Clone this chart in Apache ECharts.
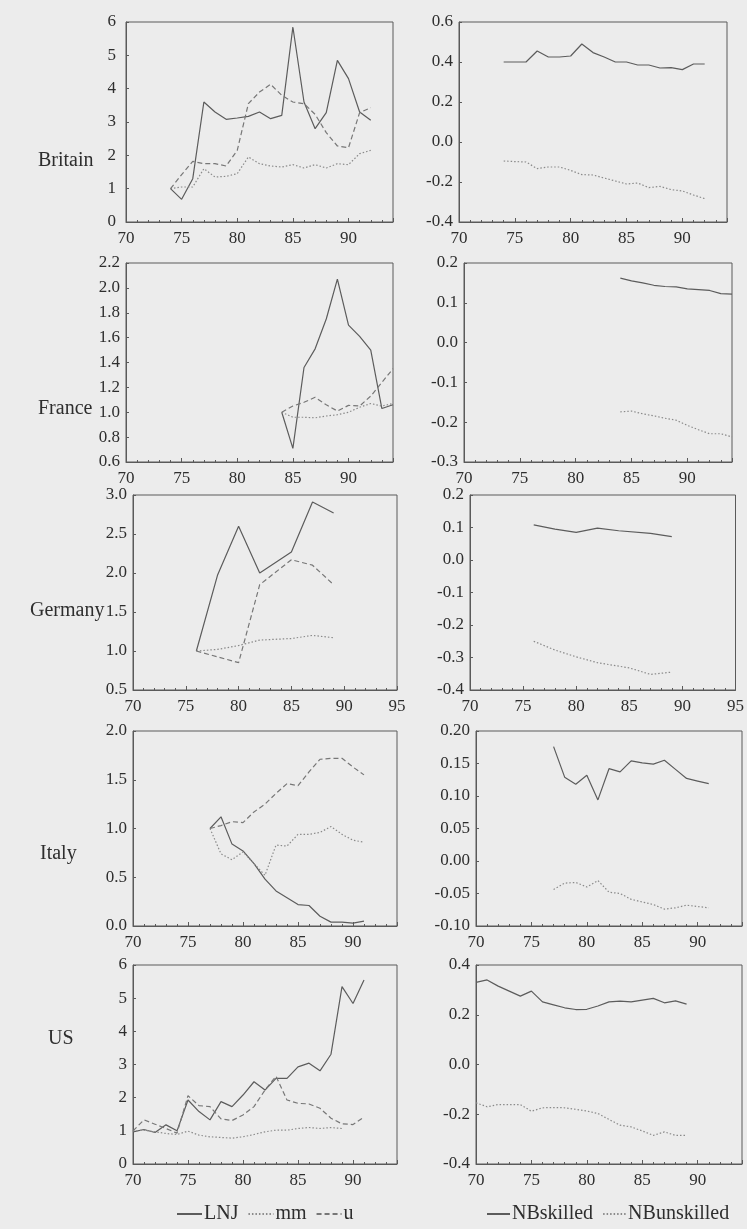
<!DOCTYPE html>
<html>
<head>
<meta charset="utf-8">
<script src="https://cdn.jsdelivr.net/npm/echarts@6/dist/echarts.min.js"></script>
<style>
html, body { margin: 0; padding: 0; background: #ececec; }
#main { width: 747px; height: 1229px; }
</style>
</head>
<body>
<div id="main"></div>
<script>
// Britain, 1974-92
var britYears = [74, 75, 76, 77, 78, 79, 80, 81, 82, 83, 84, 85, 86, 87, 88, 89, 90, 91, 92];
var britLNJ = [1.0, 0.68, 1.3, 3.6, 3.3, 3.08, 3.12, 3.17, 3.3, 3.1, 3.2, 5.85, 3.6, 2.8, 3.28, 4.85, 4.3, 3.3, 3.05];
var britMM = [1.0, 1.05, 1.05, 1.6, 1.35, 1.37, 1.45, 1.95, 1.75, 1.68, 1.65, 1.72, 1.62, 1.72, 1.62, 1.75, 1.72, 2.05, 2.15];
var britU = [1.0, 1.42, 1.82, 1.75, 1.75, 1.68, 2.15, 3.55, 3.9, 4.13, 3.8, 3.6, 3.55, 3.23, 2.68, 2.28, 2.23, 3.28, 3.43];
var britSkilled = [0.40, 0.40, 0.40, 0.455, 0.425, 0.425, 0.43, 0.49, 0.447, 0.425, 0.40, 0.40, 0.385, 0.385, 0.37, 0.372, 0.362, 0.39, 0.39];
var britUnskilled = [-0.095, -0.098, -0.1, -0.133, -0.125, -0.125, -0.142, -0.163, -0.165, -0.18, -0.195, -0.21, -0.205, -0.228, -0.222, -0.238, -0.245, -0.265, -0.283];

// France, 1984-94
var franceYears = [84, 85, 86, 87, 88, 89, 90, 91, 92, 93, 94];
var franceLNJ = [1.0, 0.71, 1.36, 1.51, 1.75, 2.07, 1.7, 1.61, 1.5, 1.03, 1.06];
var franceMM = [1.0, 0.96, 0.96, 0.955, 0.97, 0.98, 1.0, 1.04, 1.07, 1.05, 1.07];
var franceU = [1.0, 1.05, 1.08, 1.12, 1.06, 1.01, 1.055, 1.05, 1.13, 1.24, 1.35];
var franceSkilled = [0.162, 0.155, 0.15, 0.144, 0.141, 0.14, 0.135, 0.133, 0.131, 0.123, 0.122];
var franceUnskilled = [-0.174, -0.172, -0.179, -0.184, -0.19, -0.195, -0.208, -0.219, -0.229, -0.229, -0.237];

// Germany, 1976-89 (null = no point drawn)
var gerYears = [76, 77, 78, 79, 80, 81, 82, 83, 84, 85, 86, 87, 88, 89];
var gerLNJ = [1.0, null, 1.97, null, 2.6, null, 2.0, null, null, 2.27, null, 2.91, null, 2.77];
var gerMM = [1.0, null, 1.02, null, 1.07, null, 1.14, null, null, 1.16, null, 1.2, null, 1.17];
var gerU = [1.0, null, null, null, 0.85, null, 1.85, null, null, 2.17, null, 2.1, null, 1.85];
var gerSkilled = [0.108, null, 0.095, null, 0.085, null, 0.098, null, 0.09, null, null, 0.082, null, 0.072];
var gerUnskilled = [-0.25, null, -0.277, null, -0.298, null, -0.316, null, null, -0.332, null, -0.352, null, -0.345];

// Italy, 1977-91
var italyYears = [77, 78, 79, 80, 81, 82, 83, 84, 85, 86, 87, 88, 89, 90, 91];
var italyLNJ = [1.0, 1.12, 0.84, 0.77, 0.64, 0.48, 0.36, 0.29, 0.22, 0.21, 0.1, 0.04, 0.04, 0.03, 0.05];
var italyMM = [1.0, 0.74, 0.68, 0.76, null, 0.52, 0.83, 0.82, 0.94, 0.94, 0.96, 1.02, 0.94, 0.88, 0.86];
var italyU = [1.0, 1.03, 1.07, 1.06, 1.17, 1.25, 1.36, 1.46, 1.44, 1.58, 1.71, 1.72, 1.72, 1.63, 1.55];
var italySkilled = [0.176, 0.129, 0.118, 0.132, 0.094, 0.142, 0.137, 0.154, 0.151, 0.149, 0.155, 0.141, 0.127, 0.123, 0.119];
var italyUnskilled = [-0.044, -0.034, -0.033, -0.04, -0.03, -0.048, -0.05, -0.059, -0.063, -0.067, -0.074, -0.072, -0.068, -0.07, -0.072];

// US, 1970-91
var usYears = [70, 71, 72, 73, 74, 75, 76, 77, 78, 79, 80, 81, 82, 83, 84, 85, 86, 87, 88, 89, 90, 91];
var usLNJ = [0.97, 1.04, 0.95, 1.18, 1.0, 1.93, 1.58, 1.33, 1.88, 1.73, 2.08, 2.48, 2.23, 2.58, 2.58, 2.93, 3.04, 2.81, 3.31, 5.35, 4.84, 5.55];
var usMM = [1.0, 1.02, 0.97, 0.92, 0.89, 0.99, 0.87, 0.82, 0.8, 0.78, 0.82, 0.89, 0.97, 1.02, 1.02, 1.07, 1.1, 1.07, 1.1, 1.07, null, null];
var usU = [1.0, 1.33, 1.2, 1.07, 0.93, 2.06, 1.76, 1.73, 1.36, 1.31, 1.48, 1.73, 2.23, 2.65, 1.93, 1.83, 1.81, 1.68, 1.38, 1.21, 1.19, 1.41];
var usSkilled = [0.33, 0.34, 0.315, 0.295, 0.275, 0.295, 0.252, 0.24, 0.228, 0.221, 0.222, 0.235, 0.252, 0.255, 0.252, 0.259, 0.266, 0.248, 0.256, 0.243, null, null];
var usUnskilled = [-0.154, -0.17, -0.161, -0.161, -0.161, -0.188, -0.174, -0.173, -0.174, -0.18, -0.187, -0.197, -0.221, -0.244, -0.251, -0.267, -0.285, -0.271, -0.285, -0.285, null, null];

var countries = ['Britain', 'France', 'Germany', 'Italy', 'US'];
var leftNames = ['LNJ', 'mm', 'u'];
var rightNames = ['NBskilled', 'NBunskilled'];

var font = 'Liberation Serif';
var ink = '#2e2e2e';
var frame = '#5a5a5a';

var lineStyles = {
  LNJ: { color: '#5c5c5c', type: 'solid', width: 1.2 },
  mm: { color: '#8a8a8a', type: [1.5, 2], width: 1.2 },
  u: { color: '#777777', type: [5, 3], width: 1.2 },
  NBskilled: { color: '#5c5c5c', type: 'solid', width: 1.2 },
  NBunskilled: { color: '#8a8a8a', type: [1.5, 2], width: 1.2 }
};

// one entry per panel: grid box, axis ranges, label decimals, data
var panels = [
  { box: [126, 22, 267, 200], xMax: 94, y: [0, 6, 1], dec: 0, lm: 10, years: britYears, s: [['LNJ', britLNJ], ['mm', britMM], ['u', britU]] },
  { box: [459, 22, 268, 200], xMax: 94, y: [-0.4, 0.6, 0.2], dec: 1, lm: 6, years: britYears, s: [['NBskilled', britSkilled], ['NBunskilled', britUnskilled]] },
  { box: [126, 263, 267, 199], xMax: 94, y: [0.6, 2.2, 0.2], dec: 1, lm: 6, years: franceYears, s: [['LNJ', franceLNJ], ['mm', franceMM], ['u', franceU]] },
  { box: [464, 263, 268, 199], xMax: 94, y: [-0.3, 0.2, 0.1], dec: 1, lm: 6, years: franceYears, s: [['NBskilled', franceSkilled], ['NBunskilled', franceUnskilled]] },
  { box: [133, 495, 264, 195], xMax: 95, y: [0.5, 3.0, 0.5], dec: 1, lm: 6, years: gerYears, s: [['LNJ', gerLNJ], ['mm', gerMM], ['u', gerU]] },
  { box: [470, 495, 268, 195], xMax: 95, y: [-0.4, 0.2, 0.1], dec: 1, lm: 6, years: gerYears, s: [['NBskilled', gerSkilled], ['NBunskilled', gerUnskilled]] },
  { box: [133, 731, 264, 195], xMax: 94, y: [0, 2.0, 0.5], dec: 1, lm: 6, years: italyYears, s: [['LNJ', italyLNJ], ['mm', italyMM], ['u', italyU]] },
  { box: [476, 731, 266, 195], xMax: 94, y: [-0.1, 0.2, 0.05], dec: 2, lm: 6, years: italyYears, s: [['NBskilled', italySkilled], ['NBunskilled', italyUnskilled]] },
  { box: [133, 965, 264, 199], xMax: 94, y: [0, 6, 1], dec: 0, lm: 6, years: usYears, s: [['LNJ', usLNJ], ['mm', usMM], ['u', usU]] },
  { box: [476, 965, 266, 199], xMax: 94, y: [-0.4, 0.4, 0.2], dec: 1, lm: 6, years: usYears, s: [['NBskilled', usSkilled], ['NBunskilled', usUnskilled]] }
];

var labelPos = [[38, 162], [38, 410], [30, 612], [40, 855], [48, 1040]];

var grids = [], xAxes = [], yAxes = [], series = [];

panels.forEach(function (p, i) {
  grids.push({
    left: p.box[0], top: p.box[1], width: p.box[2], height: p.box[3],
    show: true, borderColor: frame, borderWidth: 1, backgroundColor: 'transparent'
  });
  xAxes.push({
    type: 'value', gridIndex: i, min: 70, max: p.xMax, interval: 5,
    axisLine: { onZero: false, lineStyle: { color: frame } },
    axisTick: { inside: true, length: 4, lineStyle: { color: frame } },
    minorTick: { show: true, splitNumber: 5, length: 2, lineStyle: { color: frame } },
    splitLine: { show: false },
    axisLabel: {
      margin: 8, color: ink, fontFamily: font, fontSize: 17,
      formatter: function (v) { return v % 5 === 0 ? String(v) : ''; }
    }
  });
  yAxes.push({
    type: 'value', gridIndex: i, min: p.y[0], max: p.y[1], interval: p.y[2],
    axisLine: { onZero: false, lineStyle: { color: frame } },
    axisTick: { inside: true, length: 3, lineStyle: { color: frame } },
    splitLine: { show: false },
    axisLabel: {
      margin: p.lm, color: ink, fontFamily: font, fontSize: 17,
      verticalAlign: 'middle', padding: [0, 0, 10, 0],
      formatter: (function (d) { return function (v) { return v.toFixed(d); }; })(p.dec)
    }
  });
  p.s.forEach(function (s) {
    var pts = [];
    p.years.forEach(function (yr, k) {
      if (s[1][k] != null) pts.push([yr, s[1][k]]);
    });
    series.push({
      name: s[0], type: 'line', xAxisIndex: i, yAxisIndex: i,
      data: pts, symbol: 'none', showSymbol: false, silent: true,
      color: lineStyles[s[0]].color,
      lineStyle: lineStyles[s[0]]
    });
  });
});

var graphics = countries.map(function (c, i) {
  return {
    type: 'text', left: labelPos[i][0], top: labelPos[i][1] - 11,
    style: { text: c, fill: ink, font: '20px "Liberation Serif"' }
  };
});

// legend: line sample only, no marker
var legendBase = {
  top: 1199, itemHeight: 12, itemGap: 9,
  itemStyle: { color: 'transparent', borderColor: 'transparent', borderWidth: 0 },
  textStyle: { fontFamily: font, fontSize: 20, color: ink, padding: [0, 0, 0, -3] }
};

var chart = echarts.init(document.getElementById('main'));
chart.setOption({
  backgroundColor: '#ececec',
  animation: false,
  grid: grids,
  xAxis: xAxes,
  yAxis: yAxes,
  series: series,
  graphic: graphics,
  legend: [
    Object.assign({ data: leftNames, left: 171, itemWidth: 25 }, legendBase),
    Object.assign({ data: rightNames, left: 481, itemWidth: 23 }, legendBase)
  ]
});
window.onresize = chart.resize;
</script>
</body>
</html>
